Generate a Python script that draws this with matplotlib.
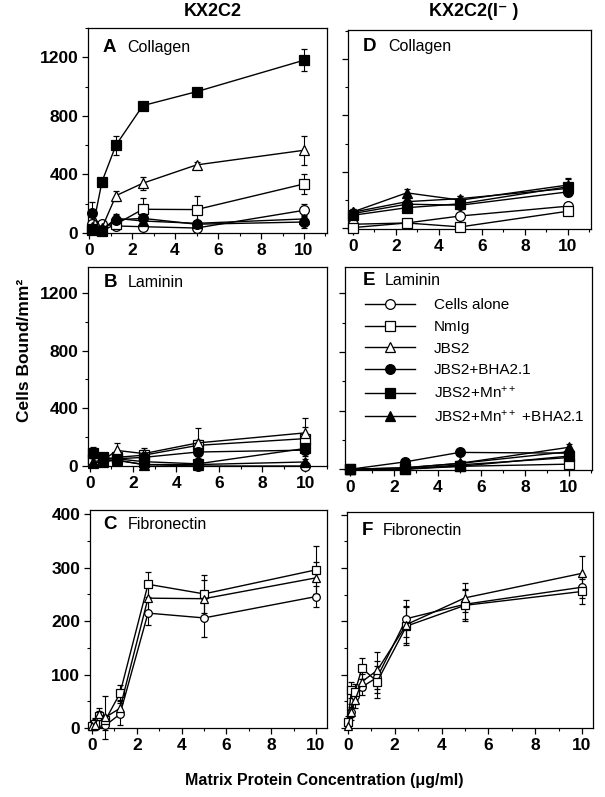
import matplotlib
matplotlib.use("Agg")
import matplotlib.pyplot as plt
from matplotlib.ticker import MultipleLocator

plt.rcParams['font.family'] = ['Liberation Sans', 'DejaVu Sans']
plt.rcParams['mathtext.default'] = 'regular'

# ---------- DATA ----------
labels = ["Cells alone", "NmIg", "JBS2", "JBS2+BHA2.1",
          "JBS2+Mn$^{++}$", "JBS2+Mn$^{++}$ +BHA2.1"]

# A: KX2C2 on collagen
a_x = [0.15, 0.6, 1.25, 2.5, 5, 10]
a_cells = [60, 62, 48, 43, 34, 155]
a_nmig = [30, 15, 60, 162, 160, 335]
a_jbs2 = [40, 35, 255, 340, 465, 565]
a_bha = [140, 20, 90, 100, 60, 75]
a_mn = [20, 350, 600, 870, 965, 1180]
a_mn_bha = [30, 20, 100, 82, 66, 96]
a_err = [[15, 10, 15, 15, 15, 45], [20, 10, 30, 80, 90, 70], [20, 15, 35, 45, 20, 100],
         [70, 10, 40, 30, 20, 40], [10, 20, 65, 25, 20, 75], [15, 10, 25, 20, 15, 30]]

# B: KX2C2 on laminin
b_x = [0.15, 0.6, 1.25, 2.5, 5, 10]
b_cells = [50, 40, 40, 10, 0, 0]
b_nmig = [50, 40, 60, 75, 143, 190]
b_jbs2 = [30, 40, 108, 86, 160, 230]
b_bha = [80, 50, 50, 60, 97, 110]
b_mn = [90, 60, 50, 30, 15, 122]
b_mn_bha = [20, 30, 40, 10, 10, 28]
b_err = [[10, 10, 10, 10, 10, 15], [20, 15, 30, 30, 40, 80], [20, 15, 50, 40, 105, 100],
         [30, 20, 20, 20, 30, 40], [40, 20, 20, 20, 10, 40], [10, 10, 15, 10, 10, 20]]

# D: KX2C2(I-) on collagen
d_x = [0, 2.5, 5, 10]
d_cells = [24, 33, 83, 153]
d_nmig = [0, 33, 5, 117]
d_jbs2 = [110, 185, 207, 280]
d_bha = [100, 167, 160, 255]
d_mn = [88, 142, 170, 292]
d_mn_bha = [112, 248, 196, 304]
d_err = [[10, 10, 15, 25], [5, 10, 5, 20], [20, 20, 20, 30],
         [20, 20, 20, 30], [20, 20, 20, 60], [20, 30, 30, 40]]

# E: KX2C2(I-) on laminin
e_x = [0, 2.5, 5, 10]
e_cells = [0, 0, 30, 80]
e_nmig = [0, 0, 20, 35]
e_jbs2 = [0, 10, 40, 120]
e_bha = [0, 50, 115, 110]
e_mn = [0, 5, 20, 90]
e_mn_bha = [0, 10, 40, 150]
e_err = [[5, 5, 10, 15], [5, 5, 10, 15], [5, 5, 10, 20],
         [5, 10, 15, 20], [5, 5, 10, 20], [5, 5, 10, 25]]

# C / F: fibronectin
c_x = [0, 0.15, 0.3, 0.6, 1.25, 2.5, 5, 10]
c_cells = [5, 10, 12, 5, 26, 215, 206, 246]
c_nmig = [3, 8, 22, 15, 65, 269, 251, 296]
c_jbs2 = [3, 5, 26, 20, 37, 243, 242, 281]
c_err = [[5, 8, 10, 8, 20, 22, 35, 20], [5, 8, 10, 10, 15, 23, 35, 45],
         [5, 8, 12, 40, 15, 25, 35, 30]]

f_x = [0, 0.15, 0.3, 0.6, 1.25, 2.5, 5, 10]
f_cells = [8, 30, 60, 77, 95, 205, 232, 264]
f_nmig = [12, 71, 68, 112, 87, 191, 230, 256]
f_jbs2 = [4, 30, 52, 87, 108, 194, 244, 290]
f_err = [[8, 10, 15, 15, 30, 35, 27, 20], [10, 15, 15, 20, 30, 35, 30, 23],
         [5, 15, 15, 15, 35, 35, 27, 33]]

markers = [('o', 'white'), ('s', 'white'), ('^', 'white'),
           ('o', 'black'), ('s', 'black'), ('^', 'black')]


def draw(ax, x, series, errs, ms):
    handles = []
    for i, (y, e) in enumerate(zip(series, errs)):
        m, fc = markers[i]
        c = ax.errorbar(x, y, yerr=e, color='black', lw=1.0, marker=m, mfc=fc,
                        mec='black', mew=0.9, ms=ms, capsize=2.2, elinewidth=0.8,
                        capthick=0.8, clip_on=False, zorder=3)
        for art in c.lines[1] + c.lines[2]:
            art.set_clip_on(False)
        handles.append(c.lines[0])
    return handles


def style(ax, xlim, ylim, ymajor, yminor, ylabels=True):
    ax.set_xlim(*xlim)
    ax.set_ylim(*ylim)
    ax.xaxis.set_major_locator(MultipleLocator(2))
    ax.xaxis.set_minor_locator(MultipleLocator(1))
    ax.yaxis.set_major_locator(MultipleLocator(ymajor))
    ax.yaxis.set_minor_locator(MultipleLocator(yminor))
    ax.tick_params(which='major', direction='out', length=4, width=0.9,
                   labelsize=12.5, pad=3)
    ax.tick_params(which='minor', direction='out', length=2.5, width=0.8)
    for lab in ax.get_xticklabels() + ax.get_yticklabels():
        lab.set_fontweight('bold')
    if not ylabels:
        ax.set_yticklabels([])
    for s in ax.spines.values():
        s.set_linewidth(0.9)


def panel_label(ax, xl, xn, y, letter, name):
    ax.text(xl, y, letter, transform=ax.transAxes, fontsize=13.5,
            fontweight='bold', va='center', ha='left')
    ax.text(xn, y, name, transform=ax.transAxes, fontsize=11.5,
            va='center', ha='left')


fig = plt.figure(figsize=(6.05, 7.97), dpi=100)
W, H = 605, 797


def add_axes(l, r, t, b):
    return fig.add_axes([l / W, 1 - b / H, (r - l) / W, (b - t) / H])


axA = add_axes(88, 327, 28, 233)
axD = add_axes(348, 591, 30, 229)
axB = add_axes(88, 327, 267, 466)
axE = add_axes(345, 592, 267, 470)
axC = add_axes(90, 327, 510, 728)
axF = add_axes(347, 593, 512, 728)

draw(axA, a_x, [a_cells, a_nmig, a_jbs2, a_bha, a_mn, a_mn_bha], a_err, 7)
draw(axB, b_x, [b_cells, b_nmig, b_jbs2, b_bha, b_mn, b_mn_bha], b_err, 7)
draw(axD, d_x, [d_cells, d_nmig, d_jbs2, d_bha, d_mn, d_mn_bha], d_err, 7)
hE = draw(axE, e_x, [e_cells, e_nmig, e_jbs2, e_bha, e_mn, e_mn_bha], e_err, 7)
draw(axC, c_x, [c_cells, c_nmig, c_jbs2], c_err, 5.5)
draw(axF, f_x, [f_cells, f_nmig, f_jbs2], f_err, 5.5)

style(axA, (-0.05, 11.07), (0, 1400), 400, 200)
style(axB, (-0.09, 11.0), (0, 1380), 400, 200)
style(axD, (-0.23, 11.07), (-10, 1410), 400, 200, ylabels=False)
style(axE, (-0.23, 11.05), (-5, 1380), 400, 200, ylabels=False)
style(axC, (-0.09, 10.49), (0, 408), 100, 50)
style(axF, (-0.04, 10.47), (0, 405), 100, 50, ylabels=False)

panel_label(axA, 0.06, 0.165, 0.905, "A", "Collagen")
panel_label(axD, 0.06, 0.165, 0.915, "D", "Collagen")
panel_label(axB, 0.065, 0.167, 0.92, "B", "Laminin")
panel_label(axE, 0.07, 0.162, 0.935, "E", "Laminin")
panel_label(axC, 0.055, 0.16, 0.935, "C", "Fibronectin")
panel_label(axF, 0.06, 0.146, 0.915, "F", "Fibronectin")

axE.legend(hE, labels, loc='upper left', bbox_to_anchor=(0.08, 0.845),
           frameon=False, fontsize=11, handlelength=3.3, handletextpad=1.2,
           labelspacing=0.5, borderaxespad=0, borderpad=0)

fig.text(213 / W, 1 - 11 / H, "KX2C2", ha='center', va='center',
         fontsize=13, fontweight='bold')
fig.text(474 / W, 1 - 11 / H, "KX2C2(I\u207b )", ha='center', va='center',
         fontsize=13, fontweight='bold')
fig.text(25 / W, 1 - 350 / H, "Cells Bound/mm\u00b2", rotation=90, ha='center',
         va='center', fontsize=12.5, fontweight='bold')
fig.text(324 / W, 1 - 781 / H, "Matrix Protein Concentration (\u03bcg/ml)",
         ha='center', va='center', fontsize=11.5, fontweight='bold')

fig.savefig("out.png", dpi=100)
